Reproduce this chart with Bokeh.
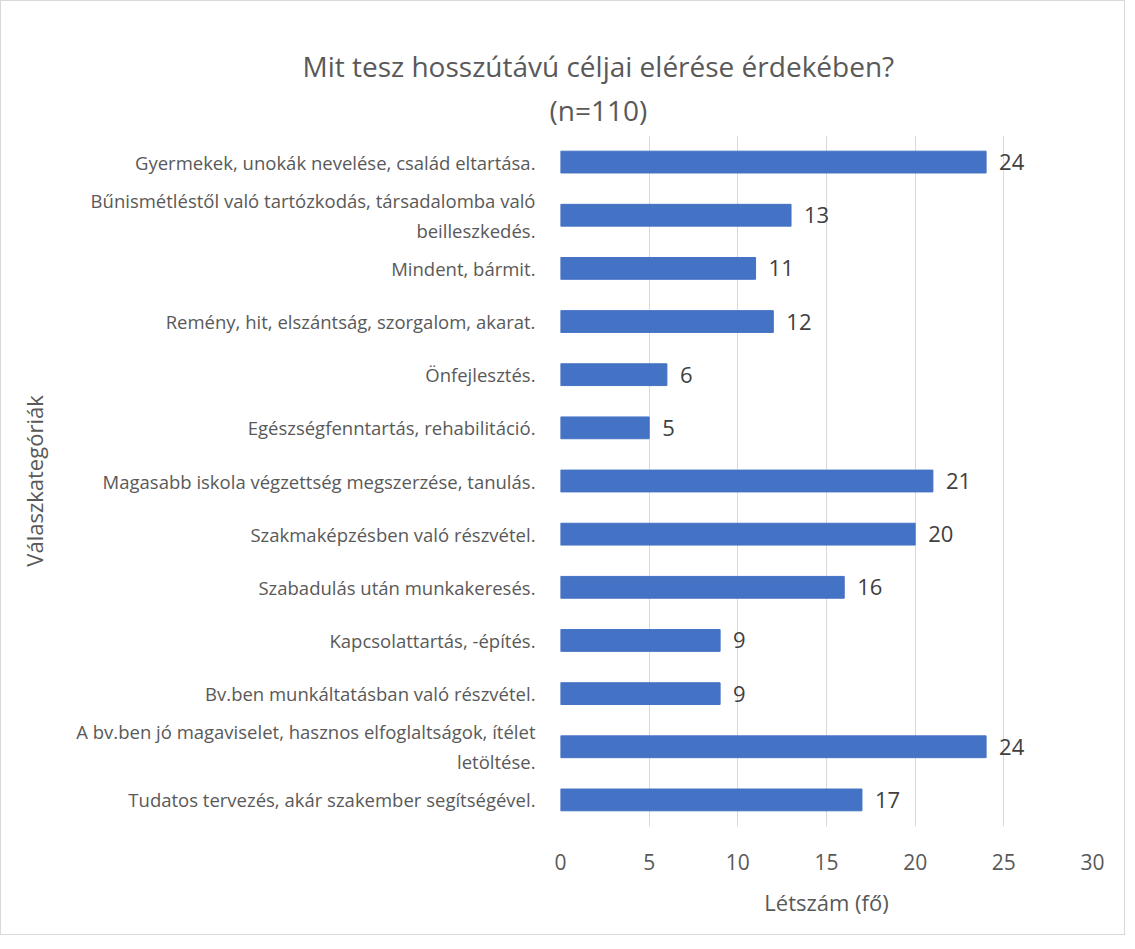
from bokeh.plotting import figure
from bokeh.models import Range1d, FactorRange, Title, FixedTicker, ColumnDataSource
from bokeh.core.properties import value
from bokeh.embed import file_html
from bokeh.resources import INLINE

categories = [
    "Gyermekek, unokák nevelése, család eltartása.",
    "Bűnismétléstől való tartózkodás, társadalomba való\nbeilleszkedés.",
    "Mindent, bármit.",
    "Remény, hit, elszántság, szorgalom, akarat.",
    "Önfejlesztés.",
    "Egészségfenntartás, rehabilitáció.",
    "Magasabb iskola végzettség megszerzése, tanulás.",
    "Szakmaképzésben való részvétel.",
    "Szabadulás után munkakeresés.",
    "Kapcsolattartás, -építés.",
    "Bv.ben munkáltatásban való részvétel.",
    "A bv.ben jó magaviselet, hasznos elfoglaltságok, ítélet\nletöltése.",
    "Tudatos tervezés, akár szakember segítségével.",
]
counts = [24, 13, 11, 12, 6, 5, 21, 20, 16, 9, 9, 24, 17]
x_ticks = [0, 5, 10, 15, 20, 25, 30]

title_line1 = "Mit tesz hosszútávú céljai elérése érdekében?"
title_line2 = "(n=110)"
x_title = "Létszám (fő)"
y_title = "Válaszkategóriák"

FONT = "Open Sans"
BAR = "#4472C4"
TXT = "#595959"

src = ColumnDataSource(dict(cat=categories, val=counts, lab=[str(v) for v in counts]))

p = figure(
    width=1125, height=935,
    y_range=FactorRange(factors=list(reversed(categories))),
    x_range=Range1d(0, 30),
    output_backend="svg", toolbar_location=None,
    min_border_left=559, min_border_right=34, min_border_top=134, min_border_bottom=110,
)
p.styles = {"border": "1px solid #D9D9D9"}

p.hbar(y="cat", right="val", left=0, height=0.41, color=BAR, source=src)
p.text(x="val", y="cat", text="lab", source=src, x_offset=13,
       text_baseline="middle", text_align="left",
       text_font=value(FONT), text_font_size="22px", text_color="#404040")

p.add_layout(Title(text=title_line2, align="left", offset=-11,
                   text_font=FONT, text_font_size="28px", text_font_style="normal",
                   text_color=TXT, standoff=14), "above")
p.add_layout(Title(text=title_line1, align="left", offset=-258,
                   text_font=FONT, text_font_size="28px", text_font_style="normal",
                   text_color=TXT, standoff=-6), "above")

p.outline_line_color = None
p.ygrid.grid_line_color = None
p.xgrid.grid_line_color = "#D9D9D9"
p.xgrid.grid_line_width = 1
p.xaxis.ticker = FixedTicker(ticks=x_ticks)

for ax in (p.xaxis[0], p.yaxis[0]):
    ax.axis_line_color = None
    ax.major_tick_line_color = None
    ax.minor_tick_line_color = None
    ax.major_label_text_font = FONT
    ax.major_label_text_color = TXT
    ax.axis_label_text_font = FONT
    ax.axis_label_text_color = TXT
    ax.axis_label_text_font_style = "normal"

p.xaxis.major_label_text_font_size = "21px"
p.xaxis.major_label_standoff = 21
p.xaxis.axis_label = x_title
p.xaxis.axis_label_text_font_size = "22px"
p.xaxis.axis_label_standoff = 14

p.yaxis.major_label_text_font_size = "18.5px"
p.yaxis.major_label_standoff = 19
p.yaxis.axis_label = y_title
p.yaxis.axis_label_text_font_size = "22px"
p.yaxis.axis_label_standoff = 24

open("out.html", "w").write(file_html(p, INLINE))
